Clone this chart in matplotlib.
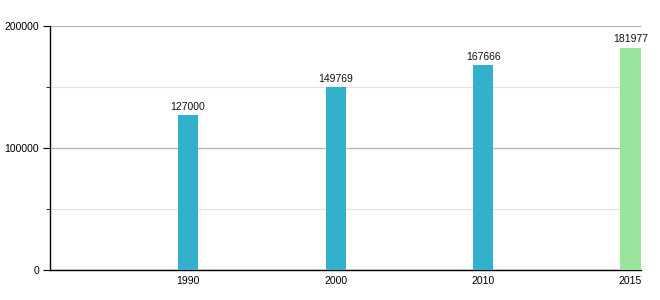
import matplotlib
matplotlib.use("Agg")
import matplotlib.pyplot as plt
from matplotlib.ticker import MultipleLocator

years = ["1990", "2000", "2010", "2015"]
population = [127000, 149769, 167666, 181977]
bar_colors = ["#33b1cc", "#33b1cc", "#33b1cc", "#99e39a"]

plt.rcParams["font.family"] = ["Liberation Sans", "DejaVu Sans"]

fig = plt.figure(figsize=(6.6, 3.0), dpi=100)
ax = fig.add_axes([0.0758, 0.1, 0.8947, 0.815])

x = list(range(len(years)))
bars = ax.bar(x, population, width=0.136, color=bar_colors, zorder=3)

for xi, val in zip(x, population):
    ax.text(xi, val + 2500, str(val), ha="center", va="bottom", fontsize=7.5, color="#111111")

ax.set_xlim(-0.936, 3.068)
ax.set_ylim(0, 200000)
ax.set_xticks(x)
ax.set_xticklabels(years)
ax.yaxis.set_major_locator(MultipleLocator(100000))
ax.yaxis.set_minor_locator(MultipleLocator(50000))
ax.grid(axis="y", which="major", color="#b5b5b5", linewidth=0.9, zorder=0)
ax.grid(axis="y", which="minor", color="#e3e3e3", linewidth=0.9, zorder=0)

for s in ["top", "right"]:
    ax.spines[s].set_visible(False)
ax.spines["left"].set_color("black")
ax.spines["bottom"].set_color("black")
ax.spines["left"].set_linewidth(1.0)
ax.spines["bottom"].set_linewidth(1.0)

ax.tick_params(axis="x", length=0, labelsize=7.5, pad=4)
ax.tick_params(axis="y", which="major", length=5, labelsize=7.5, pad=3)
ax.tick_params(axis="y", which="minor", length=3)

fig.savefig("out.png", dpi=100)
plt.close(fig)
